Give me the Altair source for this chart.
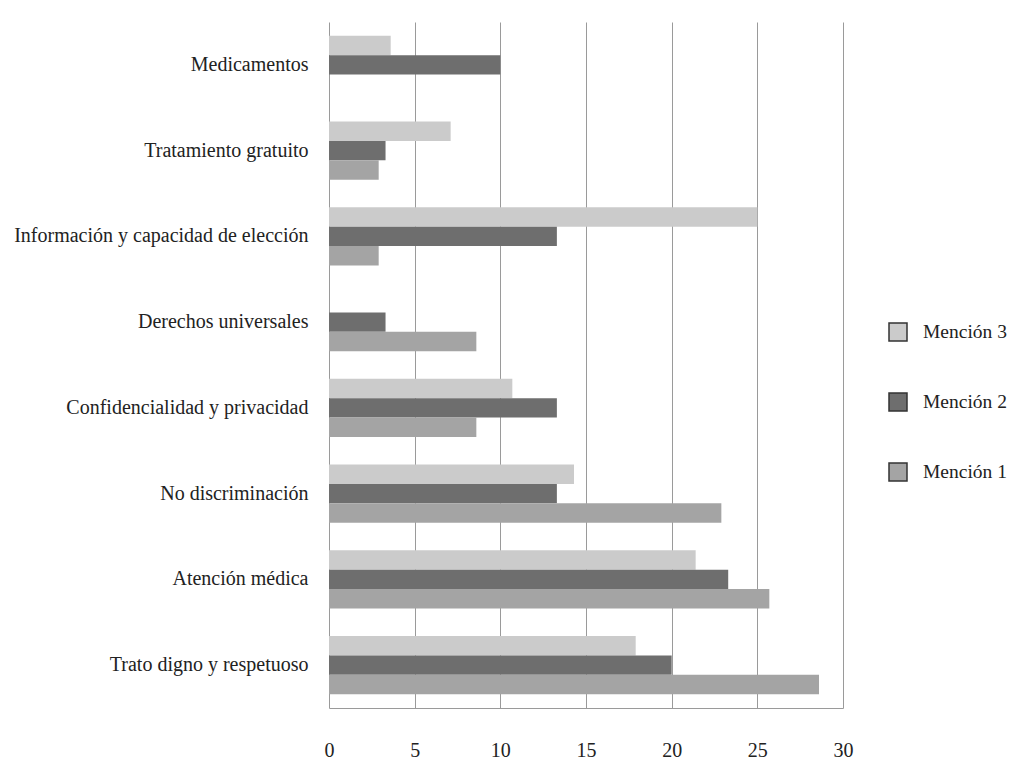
import altair as alt
import pandas as pd

categorias = [
    "Medicamentos",
    "Tratamiento gratuito",
    "Información y capacidad de elección",
    "Derechos universales",
    "Confidencialidad y privacidad",
    "No discriminación",
    "Atención médica",
    "Trato digno y respetuoso",
]
series = ["Mención 3", "Mención 2", "Mención 1"]
mencion3 = [3.6, 7.1, 25.0, 0.0, 10.7, 14.3, 21.4, 17.9]
mencion2 = [10.0, 3.3, 13.3, 3.3, 13.3, 13.3, 23.3, 20.0]
mencion1 = [0.0, 2.9, 2.9, 8.6, 8.6, 22.9, 25.7, 28.6]
colores = ["#cbcbcb", "#6e6e6e", "#a4a4a4"]
ticks_x = [0, 5, 10, 15, 20, 25, 30]

rows = []
for serie, vals in zip(series, [mencion3, mencion2, mencion1]):
    for c, v in zip(categorias, vals):
        rows.append({"categoria": c, "serie": serie, "valor": v})
df = pd.DataFrame(rows)

FONT = "Liberation Serif"

chart = alt.Chart(df).mark_bar().encode(
    y=alt.Y(
        "categoria:N",
        sort=categorias,
        scale=alt.Scale(paddingInner=0.32, paddingOuter=0.16),
        axis=alt.Axis(
            title=None, ticks=False, domain=False, grid=False,
            labelFont=FONT, labelFontSize=20, labelColor="#222222",
            labelPadding=21, labelLimit=500, minExtent=321,
        ),
    ),
    yOffset=alt.YOffset("serie:N", sort=series, scale=alt.Scale(paddingInner=0, paddingOuter=0)),
    x=alt.X(
        "valor:Q",
        scale=alt.Scale(domain=[0, 30], nice=False),
        axis=alt.Axis(
            title=None, values=ticks_x, ticks=False, domain=True,
            domainColor="#9a9a9a", domainWidth=1,
            grid=True, gridColor="#9a9a9a", gridWidth=1,
            labelFont=FONT, labelFontSize=20, labelColor="#222222",
            labelPadding=32, labelFlush=False,
        ),
    ),
    color=alt.Color(
        "serie:N",
        scale=alt.Scale(domain=series, range=colores),
        legend=alt.Legend(
            title=None, orient="none", legendX=559, legendY=300,
            symbolType="square", symbolSize=324, symbolStrokeColor="#333333",
            symbolStrokeWidth=1.5, symbolOpacity=1,
            labelFont=FONT, labelFontSize=19.5, labelColor="#222222",
            labelOffset=15, rowPadding=46, padding=0,
        ),
    ),
).properties(
    width=514,
    height=686,
    padding={"left": 0, "top": 14, "right": 0, "bottom": 0},
).configure_view(stroke=None)

chart.save("out.html", embed_options={"renderer": "svg", "actions": False})
